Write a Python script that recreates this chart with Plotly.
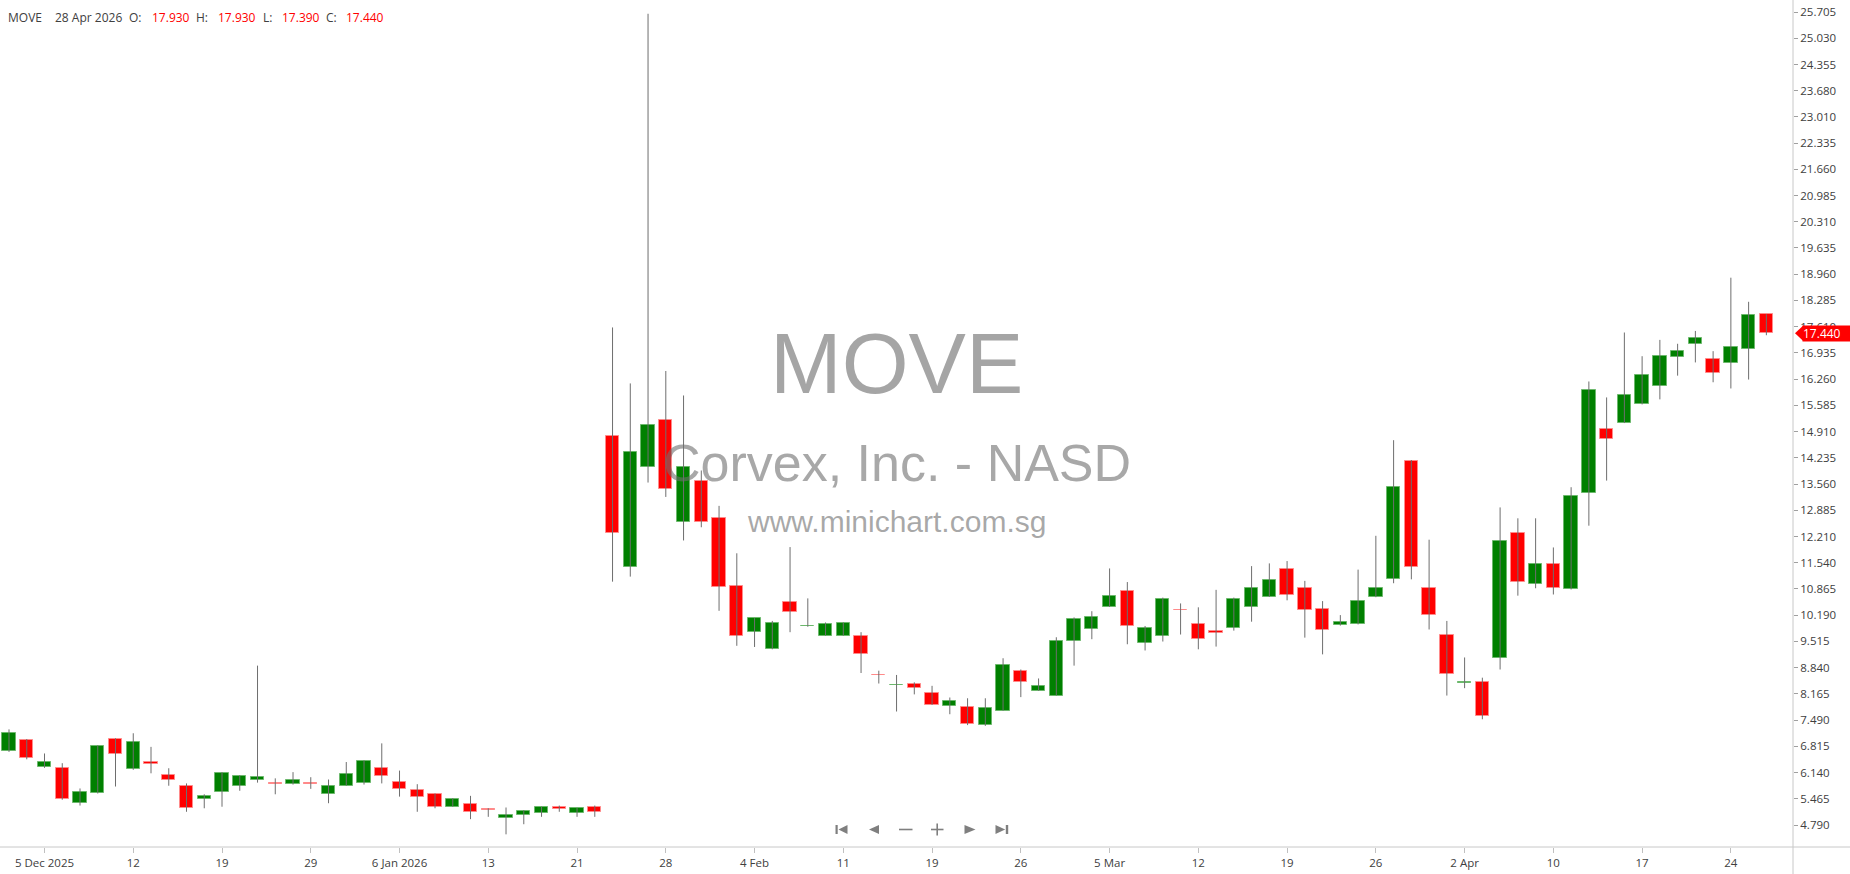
import plotly.graph_objects as go

# ---------------- data ----------------
dates = [
    "2025-12-03", "2025-12-04", "2025-12-05", "2025-12-08", "2025-12-09", "2025-12-10", "2025-12-11", "2025-12-12",
    "2025-12-15", "2025-12-16", "2025-12-17", "2025-12-18", "2025-12-19", "2025-12-22", "2025-12-23", "2025-12-24",
    "2025-12-26", "2025-12-29", "2025-12-30", "2025-12-31",
    "2026-01-02", "2026-01-05", "2026-01-06", "2026-01-07", "2026-01-08", "2026-01-09", "2026-01-12", "2026-01-13",
    "2026-01-14", "2026-01-15", "2026-01-16", "2026-01-20", "2026-01-21", "2026-01-22", "2026-01-23", "2026-01-26",
    "2026-01-27", "2026-01-28", "2026-01-29", "2026-01-30",
    "2026-02-02", "2026-02-03", "2026-02-04", "2026-02-05", "2026-02-06", "2026-02-09", "2026-02-10", "2026-02-11",
    "2026-02-12", "2026-02-13", "2026-02-17", "2026-02-18", "2026-02-19", "2026-02-20", "2026-02-23", "2026-02-24",
    "2026-02-25", "2026-02-26", "2026-02-27",
    "2026-03-02", "2026-03-03", "2026-03-04", "2026-03-05", "2026-03-06", "2026-03-09", "2026-03-10", "2026-03-11",
    "2026-03-12", "2026-03-13", "2026-03-16", "2026-03-17", "2026-03-18", "2026-03-19", "2026-03-20", "2026-03-23",
    "2026-03-24", "2026-03-25", "2026-03-26", "2026-03-27", "2026-03-30", "2026-03-31",
    "2026-04-01", "2026-04-02", "2026-04-06", "2026-04-07", "2026-04-08", "2026-04-09", "2026-04-10", "2026-04-13",
    "2026-04-14", "2026-04-15", "2026-04-16", "2026-04-17", "2026-04-20", "2026-04-21", "2026-04-22", "2026-04-23",
    "2026-04-24", "2026-04-27", "2026-04-28",
]

opens = [
    6.70, 6.97, 6.29, 6.25, 5.35, 5.61, 6.99, 6.22, 6.41, 6.08,
    5.80, 5.45, 5.64, 5.80, 5.94, 5.86, 5.84, 5.87, 5.60, 5.80,
    5.86, 6.25, 5.90, 5.70, 5.58, 5.26, 5.32, 5.19, 4.98, 5.06,
    5.10, 5.25, 5.10, 5.25, 14.79, 11.44, 14.00, 15.22, 12.59, 13.64,
    12.70, 10.95, 9.75, 9.33, 10.53, 9.90, 9.66, 9.66, 9.66, 8.66,
    8.38, 8.43, 8.18, 7.86, 7.83, 7.36, 7.73, 8.76, 8.25, 8.12,
    9.53, 9.83, 10.41, 10.82, 9.47, 9.66, 10.33, 9.97, 9.78, 9.85,
    10.41, 10.66, 11.38, 10.90, 10.35, 9.93, 9.95, 10.66, 11.11, 14.15,
    10.90, 9.69, 8.45, 8.46, 9.09, 12.29, 10.98, 11.50, 10.85, 13.32,
    14.99, 15.13, 15.61, 16.09, 16.83, 17.16, 16.79, 16.67, 17.03, 17.93,
]
highs = [
    7.25, 7.00, 6.63, 6.38, 5.73, 6.84, 7.02, 7.15, 6.80, 6.25,
    5.86, 5.58, 6.15, 6.07, 8.89, 5.99, 6.15, 6.02, 5.96, 6.41,
    6.45, 6.89, 6.19, 5.84, 5.60, 5.48, 5.54, 5.22, 5.24, 5.17,
    5.26, 5.29, 5.23, 5.29, 17.59, 16.15, 25.66, 16.47, 15.84, 13.91,
    13.00, 11.78, 10.11, 10.04, 11.94, 10.62, 10.00, 10.00, 9.75, 8.76,
    8.65, 8.46, 8.37, 8.07, 8.05, 8.05, 9.08, 8.79, 8.56, 9.62,
    10.13, 10.29, 11.39, 11.04, 9.91, 10.64, 10.49, 10.39, 10.84, 10.64,
    11.45, 11.52, 11.58, 11.07, 10.55, 10.19, 11.36, 12.23, 14.69, 14.18,
    12.13, 10.04, 9.10, 8.58, 12.96, 12.68, 12.68, 11.93, 13.48, 16.20,
    15.79, 17.46, 16.85, 17.27, 17.17, 17.50, 16.98, 18.87, 18.25, 17.93,
]
lows = [
    6.67, 6.48, 6.26, 5.44, 5.29, 5.60, 5.78, 6.21, 6.12, 5.80,
    5.13, 5.22, 5.26, 5.67, 5.88, 5.58, 5.83, 5.72, 5.35, 5.80,
    5.83, 5.86, 5.52, 5.13, 5.22, 5.26, 4.94, 5.00, 4.55, 4.81,
    5.00, 5.13, 5.00, 5.00, 11.05, 11.18, 13.60, 13.23, 12.11, 12.45,
    10.30, 9.40, 9.37, 9.31, 9.75, 9.89, 9.66, 9.66, 8.70, 8.43,
    7.71, 8.15, 7.88, 7.64, 7.36, 7.34, 7.73, 8.08, 8.24, 8.12,
    8.89, 9.57, 10.40, 9.44, 9.28, 9.51, 9.69, 9.31, 9.38, 9.79,
    10.02, 10.66, 10.57, 9.61, 9.18, 9.92, 9.95, 10.65, 11.01, 11.11,
    9.82, 8.12, 8.31, 7.51, 8.79, 10.69, 10.88, 10.72, 10.85, 12.49,
    13.65, 15.13, 15.61, 15.74, 16.35, 16.69, 16.18, 16.02, 16.25, 17.39,
]
closes = [
    7.15, 6.51, 6.41, 5.45, 5.64, 6.83, 6.61, 6.92, 6.35, 5.94,
    5.22, 5.54, 6.14, 6.06, 6.02, 5.85, 5.96, 5.85, 5.80, 6.09,
    6.44, 6.06, 5.71, 5.52, 5.26, 5.47, 5.13, 5.18, 5.06, 5.16,
    5.25, 5.20, 5.22, 5.13, 12.29, 14.39, 15.08, 13.43, 14.01, 12.59,
    10.92, 9.66, 10.11, 9.99, 10.27, 9.92, 9.95, 9.99, 9.18, 8.64,
    8.39, 8.31, 7.89, 7.99, 7.40, 7.79, 8.91, 8.47, 8.37, 9.52,
    10.10, 10.13, 10.68, 9.92, 9.85, 10.61, 10.31, 9.57, 9.72, 10.61,
    10.90, 11.10, 10.70, 10.32, 9.80, 10.00, 10.56, 10.88, 13.48, 11.43,
    10.18, 8.67, 8.47, 7.60, 12.10, 11.05, 11.50, 10.88, 13.25, 15.98,
    14.71, 15.85, 16.37, 16.85, 16.98, 17.33, 16.41, 17.10, 17.91, 17.44,
]

x_tick_dates = ["2025-12-05", "2025-12-12", "2025-12-19", "2025-12-29", "2026-01-06", "2026-01-13",
                "2026-01-21", "2026-01-28", "2026-02-04", "2026-02-11", "2026-02-19", "2026-02-26",
                "2026-03-05", "2026-03-12", "2026-03-19", "2026-03-26", "2026-04-02", "2026-04-10",
                "2026-04-17", "2026-04-24"]
x_tick_labels = ["5 Dec 2025", "12", "19", "29", "6 Jan 2026", "13", "21", "28", "4 Feb", "11", "19", "26",
                 "5 Mar", "12", "19", "26", "2 Apr", "10", "17", "24"]
y_tick_values = [25.705, 25.030, 24.355, 23.680, 23.010, 22.335, 21.660, 20.985, 20.310, 19.635,
                 18.960, 18.285, 17.610, 16.935, 16.260, 15.585, 14.910, 14.235, 13.560, 12.885,
                 12.210, 11.540, 10.865, 10.190, 9.515, 8.840, 8.165, 7.490, 6.815, 6.140, 5.465, 4.790]

symbol = "MOVE"
company = "Corvex, Inc. - NASD"
site = "www.minichart.com.sg"
last_date_label = "28 Apr 2026"

# ---------------- layout constants ----------------
W, H = 1850, 874
ML, MR, MT, MB = 0, 57, 0, 27
PW, PH = W - ML - MR, H - MT - MB
Y_RANGE = [4.224, 26.014]
X_RANGE = [-0.507, 100.5]

UP, DOWN = "#008000", "#ff0000"
UP_EDGE, DOWN_EDGE = "#6cb86c", "#ff8a8a"
WICK = "#6e6e6e"
TXT = "#404040"


def pxx(x):
    return x / PW


def pyy(y):
    return 1 - y / PH


def yval_to_paper(v):
    return (v - Y_RANGE[0]) / (Y_RANGE[1] - Y_RANGE[0])


up_flags = [c >= o for o, c in zip(opens, closes)]

# wicks
wx, wy = [], []
for d, lo, hi in zip(dates, lows, highs):
    wx += [d, d, None]
    wy += [lo, hi, None]

fig = go.Figure()
fig.add_trace(go.Scatter(x=wx, y=wy, mode="lines", line=dict(color=WICK, width=1),
                         hoverinfo="skip", showlegend=False))
fig.add_trace(go.Bar(
    x=dates,
    base=[min(o, c) for o, c in zip(opens, closes)],
    y=[abs(c - o) for o, c in zip(opens, closes)],
    width=0.75,
    marker=dict(color=[UP if u else DOWN for u in up_flags],
                line=dict(color=[UP_EDGE if u else DOWN_EDGE for u in up_flags], width=1)),
    hoverinfo="skip", showlegend=False,
))

ann = []
# watermark
ann.append(dict(text=symbol, x=0.5, y=pyy(363), xref="paper", yref="paper", showarrow=False,
                xanchor="center", yanchor="middle",
                font=dict(family="Liberation Sans, Arial, sans-serif", size=86, color="rgba(110,110,110,0.62)")))
ann.append(dict(text=company, x=0.5, y=pyy(463), xref="paper", yref="paper", showarrow=False,
                xanchor="center", yanchor="middle",
                font=dict(family="Liberation Sans, Arial, sans-serif", size=52, color="rgba(110,110,110,0.6)")))
ann.append(dict(text=site, x=0.5, y=pyy(521), xref="paper", yref="paper", showarrow=False,
                xanchor="center", yanchor="middle",
                font=dict(family="Liberation Sans, Arial, sans-serif", size=30, color="rgba(110,110,110,0.6)")))

# header
hdr_y = pyy(17.5)
hdr_font = "Open Sans, sans-serif"
header_parts = [
    (7, symbol, TXT), (54, last_date_label, TXT),
    (128, "O:", TXT), (151, f"{opens[-1]:.3f}", DOWN),
    (195, "H:", TXT), (217, f"{highs[-1]:.3f}", DOWN),
    (262, "L:", TXT), (281, f"{lows[-1]:.3f}", DOWN),
    (325, "C:", TXT), (345, f"{closes[-1]:.3f}", DOWN),
]
for x0, t, col in header_parts:
    ann.append(dict(text=t, x=pxx(x0), y=hdr_y, xref="paper", yref="paper", showarrow=False,
                    xanchor="left", yanchor="middle", borderpad=0,
                    font=dict(family=hdr_font, size=12, color=col)))

# last price tag
last_close = closes[-1]
last_col = UP if up_flags[-1] else DOWN
ann.append(dict(text=f"{last_close:.3f}", x=pxx(1802), y=yval_to_paper(last_close), xref="paper", yref="paper",
                showarrow=False, xanchor="left", yanchor="middle", bgcolor=last_col, borderpad=0,
                width=48, height=15, align="left",
                font=dict(family=hdr_font, size=12, color="white")))

shapes = []
# axes lines
shapes.append(dict(type="line", xref="paper", yref="paper", x0=0, x1=W / PW, y0=0, y1=0,
                   line=dict(color="#c8c8c8", width=1)))
shapes.append(dict(type="line", xref="paper", yref="paper", x0=1, x1=1, y0=-MB / PH, y1=1,
                   line=dict(color="#c8c8c8", width=1)))
# tag arrow
yc = yval_to_paper(last_close)
shapes.append(dict(type="path", xref="paper", yref="paper",
                   path=f"M {pxx(1795)} {yc} L {pxx(1803)} {yc + 7.5 / PH} L {pxx(1803)} {yc - 7.5 / PH} Z",
                   fillcolor=last_col, line=dict(width=0)))


def tri(tip_x, base_x, cy=829.5, half=4.5):
    return (f"M {pxx(tip_x)} {pyy(cy)} L {pxx(base_x)} {pyy(cy - half)} "
            f"L {pxx(base_x)} {pyy(cy + half)} Z")


def rect(x0, x1, y0, y1):
    return f"M {pxx(x0)} {pyy(y0)} L {pxx(x1)} {pyy(y0)} L {pxx(x1)} {pyy(y1)} L {pxx(x0)} {pyy(y1)} Z"


NAV = "#7f7f7f"
nav_paths = [
    rect(835.5, 837.7, 825, 834), tri(838.5, 847.5),
    tri(869, 879),
    rect(899, 912.5, 828.7, 830.3),
    rect(931, 943.5, 828.7, 830.3), rect(936.4, 938.0, 823.5, 835.5),
    tri(975.5, 964.5),
    tri(1005.2, 995.5), rect(1005.8, 1008.2, 825, 834),
]
for p in nav_paths:
    shapes.append(dict(type="path", xref="paper", yref="paper", path=p, fillcolor=NAV, line=dict(width=0)))

fig.update_layout(
    width=W, height=H,
    margin=dict(l=ML, r=MR, t=MT, b=MB, pad=0),
    paper_bgcolor="white", plot_bgcolor="white",
    showlegend=False, hovermode=False, bargap=0,
    annotations=ann, shapes=shapes,
    xaxis=dict(type="category", categoryorder="array", categoryarray=dates, range=X_RANGE,
               tickmode="array", tickvals=x_tick_dates, ticktext=x_tick_labels,
               showgrid=False, zeroline=False, showline=False,
               ticks="outside", ticklen=5, tickcolor="#c0c0c0", tickwidth=1,
               tickfont=dict(family="Open Sans, sans-serif", size=11.5, color=TXT), fixedrange=True),
    yaxis=dict(side="right", range=Y_RANGE, tickmode="array", tickvals=y_tick_values,
               ticktext=[f"{v:.3f}" for v in y_tick_values],
               showgrid=False, zeroline=False, showline=False,
               ticks="outside", ticklen=4, tickcolor="#a0a0a0", tickwidth=1,
               tickfont=dict(family="Open Sans, sans-serif", size=11.5, color=TXT), fixedrange=True),
)

fig.write_html("out.html", config={"displayModeBar": False},
               post_script="document.body.style.margin='0';document.body.style.overflow='hidden';")
